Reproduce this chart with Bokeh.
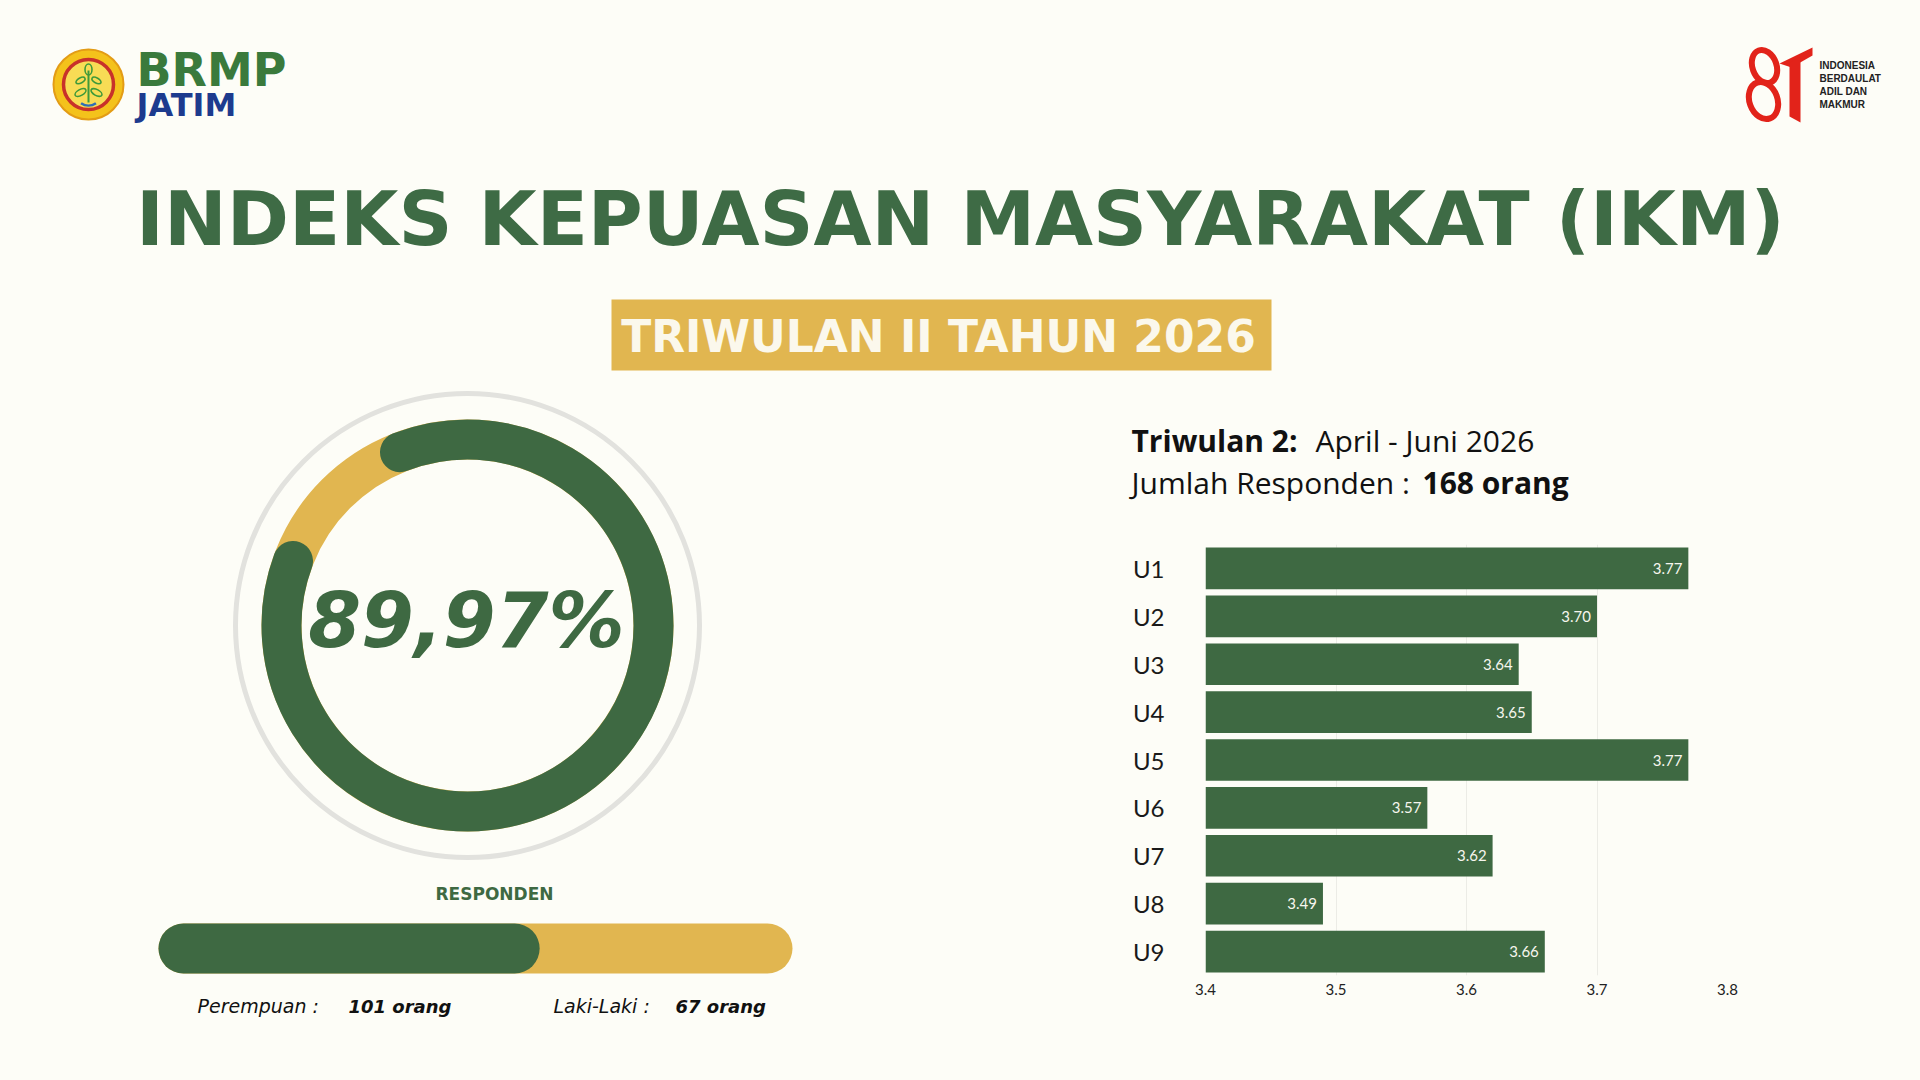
import math
from bokeh.plotting import figure
from bokeh.layouts import column, row
from bokeh.models import Range1d, FactorRange, ColumnDataSource, FixedTicker
from bokeh.core.properties import value
from bokeh.embed import file_html
from bokeh.resources import INLINE

# ---------------- data ----------------
title_text = "INDEKS KEPUASAN MASYARAKAT (IKM)"
period_text = "TRIWULAN II TAHUN 2026"
ikm_value = 89.97
ikm_label = "89,97%"
quarter_label = "Triwulan 2:"
quarter_months = "April - Juni 2026"
respondent_label = "Jumlah Responden : "
respondent_total_label = "168 orang"
respondents_total = 168
female_count = 101
male_count = 67
female_label = "Perempuan :"
female_value_label = "101 orang"
male_label = "Laki-Laki :"
male_value_label = "67 orang"
unsur = ["U1", "U2", "U3", "U4", "U5", "U6", "U7", "U8", "U9"]
unsur_scores = [3.77, 3.70, 3.64, 3.65, 3.77, 3.57, 3.62, 3.49, 3.66]
score_labels = ["3.77", "3.70", "3.64", "3.65", "3.77", "3.57", "3.62", "3.49", "3.66"]
x_ticks = [3.4, 3.5, 3.6, 3.7, 3.8]
logo_lines = ["INDONESIA", "BERDAULAT", "ADIL DAN", "MAKMUR"]

# ---------------- styles ----------------
BG = "#FDFDF7"
GREEN = "#3E6942"
TITLE_GREEN = "#3E6B45"
GOLD = "#E1B650"
W, H = 1920, 1080
MID = 0.35  # baseline -> em middle


def Y(y):
    return H - y


def canvas(x0, x1, y0, y1):
    f = figure(width=x1 - x0, height=y1 - y0,
               x_range=Range1d(x0, x1), y_range=Range1d(Y(y1), Y(y0)),
               x_axis_type=None, y_axis_type=None, tools="",
               output_backend="svg", toolbar_location=None, min_border=0,
               background_fill_color=BG, border_fill_color=BG,
               outline_line_color=None, frame_align=False)
    f.grid.visible = False
    return f


def txt(f, x, y, s, size, color, font="DejaVu Sans", style="normal", align="left"):
    f.text(x=[x], y=[Y(y - MID * size)], text=[s], text_font=value(font),
           text_font_size=f"{size}px", text_font_style=style,
           text_color=color, text_align=align, text_baseline="middle")


# ---------------- header ----------------
A = canvas(0, W, 0, 380)
# BRMP emblem
A.circle(x=[88], y=[Y(84)], radius=35, fill_color="#F4C21B", line_color="#E39C16", line_width=2)
A.circle(x=[88], y=[Y(84)], radius=25, fill_color="#F8DC55", line_color="#C8312A", line_width=3.5)
A.line(x=[88, 88], y=[Y(102), Y(70)], line_color="#3F9A3A", line_width=2)
A.ellipse(x=[80, 96, 80, 96, 88], y=[Y(92), Y(92), Y(80), Y(80), Y(69)],
          width=[12, 12, 10, 10, 7], height=[6, 6, 5, 5, 11],
          angle=[0.5, -0.5, 0.5, -0.5, 0], fill_color=None, line_color="#3F9A3A", line_width=1.6)
A.arc(x=[88], y=[Y(92)], radius=13, start_angle=math.radians(235), end_angle=math.radians(305),
      line_color="#2F6FB5", line_width=2.5)
txt(A, 136, 86, "BRMP", 46, "#3A7A3C", style="bold")
txt(A, 136, 116, "JATIM", 32, "#1D3B8E", style="bold")

# 81 logo
RED = "#E2231A"
A.ellipse(x=[1764, 1763], y=[Y(66), Y(100)], width=[24, 28], height=[34, 38],
          angle=[0.35, 0.35], fill_color=None, line_color=RED, line_width=6)
A.patch(x=[1779, 1812, 1812, 1791], y=[Y(63), Y(47), Y(55), Y(67)], fill_color=RED, line_color=None)
A.patch(x=[1789, 1800, 1800, 1789], y=[Y(62), Y(56), Y(122), Y(116)], fill_color=RED, line_color=None)
for i, s in enumerate(logo_lines):
    txt(A, 1819, 68 + i * 13, s, 10, "#222222", font="Liberation Sans", style="bold")

# title and period box
txt(A, 960, 245, title_text, 75, TITLE_GREEN, style="bold", align="center")
A.quad(left=[611], right=[1271], top=[Y(299)], bottom=[Y(370)], fill_color=GOLD, line_color=None)
txt(A, 938, 351, period_text, 44, "#FBF8EC", style="bold", align="center")

# ---------------- left: donut & respondents ----------------
B = canvas(0, 1120, 380, H)
cx, cy = 467, 625
ring_r, ring_w = 186, 40
B.circle(x=[cx], y=[Y(cy)], radius=232, fill_color=None, line_color="#E2E2DE", line_width=5)
B.circle(x=[cx], y=[Y(cy)], radius=ring_r, fill_color=None, line_color=GOLD, line_width=ring_w)
gap_center = math.radians(135.5)
half_gap = math.pi * (100 - ikm_value) / 100.0
cap = (ring_w / 2) / ring_r
B.arc(x=[cx], y=[Y(cy)], radius=ring_r,
      start_angle=gap_center + half_gap + cap, end_angle=gap_center - half_gap - cap,
      direction="anticlock", line_color=GREEN, line_width=ring_w, line_cap="round")
txt(B, 466, 647, ikm_label, 76, GREEN, style="bold italic", align="center")

# respondents capsule
bx0, bx1, by, bh = 158, 792, 948, 50
r = bh / 2
B.line(x=[bx0 + r, bx1 - r], y=[Y(by), Y(by)], line_color=GOLD, line_width=bh, line_cap="round")
female_end = bx0 + (bx1 - bx0) * female_count / respondents_total - r
B.line(x=[bx0 + r, female_end], y=[Y(by), Y(by)], line_color=GREEN, line_width=bh, line_cap="round")
txt(B, 494, 899, "RESPONDEN", 17, GREEN, style="bold", align="center")
txt(B, 197, 1012, female_label, 19, "#111111", style="italic")
txt(B, 348, 1012, female_value_label, 18, "#111111", style="bold italic")
txt(B, 553, 1012, male_label, 19, "#111111", style="italic")
txt(B, 675, 1012, male_value_label, 18, "#111111", style="bold italic")

# ---------------- right: info text ----------------
RX0 = 1120
C = canvas(RX0, W, 380, 520)
txt(C, 1131, 450, quarter_label, 30, "#111111", font="Open Sans", style="bold")
txt(C, 1315, 450, quarter_months, 30, "#111111", font="Open Sans")
txt(C, 1131, 492, respondent_label, 30, "#111111", font="Open Sans")
txt(C, 1422, 492, respondent_total_label, 30, "#111111", font="Open Sans", style="bold")

# ---------------- right: bar chart ----------------
FL, FR = 1205, 1727          # frame left / right (screen px)
FT, FB = 544, 975            # frame top / bottom (screen px)
src = ColumnDataSource(dict(u=unsur, s=unsur_scores, lab=score_labels))
D = figure(width=W - RX0, height=H - 520,
           y_range=FactorRange(factors=list(reversed(unsur))),
           x_range=Range1d(x_ticks[0], x_ticks[-1]), tools="",
           output_backend="svg", toolbar_location=None,
           min_border_left=FL - RX0, min_border_right=W - FR,
           min_border_top=FT - 520, min_border_bottom=H - FB,
           background_fill_color=BG, border_fill_color=BG, outline_line_color=None,
           frame_align=False)
D.hbar(y="u", left=x_ticks[0], right="s", height=0.87, source=src,
       fill_color=GREEN, line_color=None)
D.text(x="s", y="u", text="lab", source=src, x_offset=-6, text_align="right",
       text_baseline="middle", text_color="#F6F6EE", text_font_size="15px",
       text_font=value("Lato"))
D.xaxis.ticker = FixedTicker(ticks=x_ticks)
D.xaxis.axis_line_color = None
D.xaxis.major_tick_line_color = None
D.xaxis.minor_tick_line_color = None
D.xaxis.major_label_standoff = 2
D.xaxis.major_label_text_font = "Lato"
D.xaxis.major_label_text_font_size = "15px"
D.xaxis.major_label_text_color = "#222222"
D.yaxis.axis_line_color = None
D.yaxis.major_tick_line_color = None
D.yaxis.minor_tick_line_color = None
D.yaxis.major_label_standoff = 35
D.yaxis.major_label_text_font = "Lato"
D.yaxis.major_label_text_font_size = "24px"
D.yaxis.major_label_text_color = "#1A1A1A"
D.xgrid.ticker = FixedTicker(ticks=x_ticks)
D.xgrid.grid_line_color = "#ECECE6"
D.ygrid.grid_line_color = None

bgstyle = {"background-color": BG}
layout = column(A, row(B, column(C, D, styles=bgstyle), styles=bgstyle), styles=bgstyle)
open("out.html", "w").write(file_html(layout, INLINE))
